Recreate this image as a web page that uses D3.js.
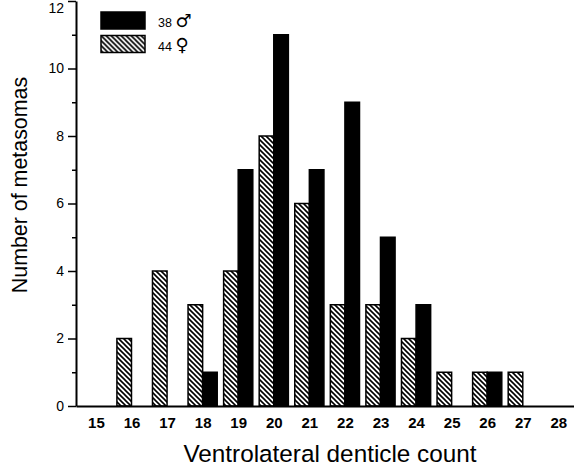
<!DOCTYPE html>
<html lang="en">
<head>
    <title>Ventrolateral denticle count</title>
    <script src="https://d3js.org/d3.v7.min.js"></script>
    <style>
        body { margin: 0; background: #fff; }
        text { font-family: Arial, "Liberation Sans", sans-serif; }
    </style>
</head>
<body>

<script>
    const counts = [15, 16, 17, 18, 19, 20, 21, 22, 23, 24, 25, 26, 27, 28];
    const males = [0, 0, 0, 1, 7, 11, 7, 9, 5, 3, 0, 1, 0, 0];
    const females = [0, 2, 4, 3, 4, 8, 6, 3, 3, 2, 1, 1, 1, 0];
    const yMajor = [0, 2, 4, 6, 8, 10, 12];
    const yMinor = [1, 3, 5, 7, 9, 11];
    const legendItems = [
        {n: "38 ", sym: "\u2642", fill: "black"},
        {n: "44 ", sym: "\u2640", fill: "url(#hatch)"}
    ];

    const width = 574, height = 467;
    const plotLeft = 76, plotRight = 574, plotTop = 1, plotBottom = 406;

    const svg = d3.select("body").append("svg")
            .attr("width", width).attr("height", height);

    // hatch pattern for the female bars
    const pat = svg.append("defs").append("pattern")
            .attr("id", "hatch")
            .attr("patternUnits", "userSpaceOnUse")
            .attr("width", 5).attr("height", 5);
    pat.append("rect").attr("width", 5).attr("height", 5).attr("fill", "white");
    pat.append("path")
            .attr("d", "M0,0L5,5M-1,4L1,6M4,-1L6,1")
            .attr("stroke", "black")
            .attr("stroke-width", 1.6);

    const x = d3.scaleLinear().domain([14.44, 28.44]).range([plotLeft, plotRight]);
    const y = d3.scaleLinear().domain([0, 12]).range([plotBottom, plotTop]);
    const bw = (x(16) - x(15)) * 0.41;

    const bars = svg.append("g");
    bars.selectAll("rect.f")
            .data(counts.map((c, i) => ({c, v: females[i]})).filter(d => d.v > 0))
            .enter().append("rect")
            .attr("class", "f")
            .attr("x", d => x(d.c) - bw)
            .attr("y", d => y(d.v))
            .attr("width", bw)
            .attr("height", d => y(0) - y(d.v))
            .attr("fill", "url(#hatch)")
            .attr("stroke", "black")
            .attr("stroke-width", 1.5);
    bars.selectAll("rect.m")
            .data(counts.map((c, i) => ({c, v: males[i]})).filter(d => d.v > 0))
            .enter().append("rect")
            .attr("class", "m")
            .attr("x", d => x(d.c))
            .attr("y", d => y(d.v))
            .attr("width", bw)
            .attr("height", d => y(0) - y(d.v))
            .attr("fill", "black")
            .attr("stroke", "black")
            .attr("stroke-width", 1.5);

    // y axis
    const yAxis = svg.append("g")
            .attr("transform", `translate(${plotLeft},0)`)
            .call(d3.axisLeft(y).tickValues(yMajor).tickSize(8).tickPadding(4).tickSizeOuter(0));
    svg.append("g")
            .attr("transform", `translate(${plotLeft},0)`)
            .call(d3.axisLeft(y).tickValues(yMinor).tickSize(4).tickFormat("").tickSizeOuter(0))
            .select(".domain").remove();
    yAxis.selectAll("text").attr("font-size", 14).attr("font-family", "Arial, 'Liberation Sans', sans-serif");
    // keep the top label inside the page
    yAxis.selectAll(".tick").filter(d => d === 12).select("text").attr("dy", "0.8em");

    // x axis
    const xAxis = svg.append("g")
            .attr("transform", `translate(0,${plotBottom})`)
            .call(d3.axisBottom(x).tickValues(counts).tickSize(0).tickPadding(11).tickSizeOuter(0));
    xAxis.selectAll("text").attr("font-size", 15).attr("font-weight", "bold")
            .attr("font-family", "Arial, 'Liberation Sans', sans-serif");

    svg.selectAll(".domain").attr("stroke-width", 2);
    svg.selectAll(".tick line").attr("stroke-width", 1.5);

    // titles
    svg.append("text")
            .attr("x", 330).attr("y", 462)
            .attr("text-anchor", "middle")
            .attr("font-size", 24.3)
            .text("Ventrolateral denticle count");
    svg.append("text")
            .attr("transform", "translate(27,185) rotate(-90)")
            .attr("text-anchor", "middle")
            .attr("font-size", 21.4)
            .text("Number of metasomas");

    // legend
    const lg = svg.append("g").attr("transform", "translate(101,12)");
    const item = lg.selectAll("g").data(legendItems).enter().append("g")
            .attr("transform", (d, i) => `translate(0,${i * 23.5})`);
    item.append("rect")
            .attr("width", 44).attr("height", 17)
            .attr("fill", d => d.fill)
            .attr("stroke", "black").attr("stroke-width", 1.5);
    const lt = item.append("text")
            .attr("x", 57).attr("y", 15)
            .attr("font-size", 12.5);
    lt.append("tspan").text(d => d.n);
    lt.append("tspan")
            .attr("font-family", "'DejaVu Sans', sans-serif")
            .attr("font-size", 18)
            .text(d => d.sym);
</script>

</body>
</html>
